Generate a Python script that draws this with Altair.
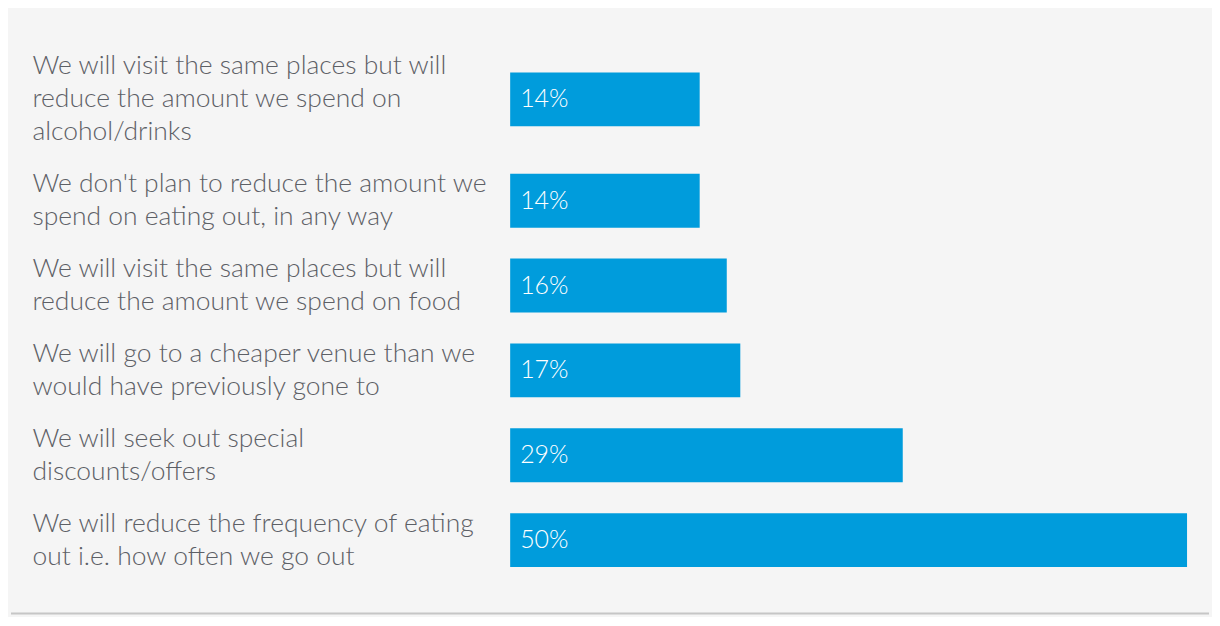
import altair as alt
import pandas as pd

labels = [
    "We will visit the same places but will|reduce the amount we spend on|alcohol/drinks",
    "We don't plan to reduce the amount we|spend on eating out, in any way",
    "We will visit the same places but will|reduce the amount we spend on food",
    "We will go to a cheaper venue than we|would have previously gone to",
    "We will seek out special|discounts/offers",
    "We will reduce the frequency of eating|out i.e. how often we go out",
]
values = [14, 14, 16, 17, 29, 50]

FONT = "Lato"
BLUE = "#009cdc"
TEXT = "#5d6066"
LINE_H = 33


def panel(i, last=False):
    df = pd.DataFrame({"label": [labels[i]], "value": [values[i]]})
    n_lines = labels[i].count("|") + 1
    h = LINE_H * n_lines + 19
    base = alt.Chart(df).transform_calculate(
        txt="datum.value + '%'"
    ).encode(
        y=alt.Y(
            "label:N",
            title=None,
            axis=alt.Axis(
                labelAlign="left",
                labelPadding=479,
                labelExpr="split(datum.label, '|')",
                labelLineHeight=LINE_H,
                labelOffset=-(n_lines - 1) * LINE_H / 2,
                labelFontSize=26.5,
                labelFont=FONT,
                labelFontWeight=300,
                labelColor=TEXT,
                labelLimit=480,
                domain=False,
                ticks=False,
            ),
        )
    )
    bar = base.mark_bar(height=54, color=BLUE).encode(
        x=alt.X("value:Q", scale=alt.Scale(domain=[0, 50]), axis=None)
    )
    txt = base.mark_text(
        align="left", dx=10, color="white", fontSize=25, font=FONT, fontWeight=300
    ).encode(x=alt.datum(0), text="txt:N")
    layers = [bar, txt]
    if last:
        rule = alt.Chart(df).mark_rule(color="#c6c6c6", strokeWidth=2).encode(
            x=alt.value(-500), x2=alt.value(700), y=alt.value(h + 31)
        )
        layers.append(rule)
    return alt.layer(*layers).properties(width=678, height=h)


panels = [panel(i, last=(i == len(labels) - 1)) for i in range(len(labels))]

chart = alt.vconcat(*panels, spacing=0, bounds="flush").properties(
    padding={"left": 2, "top": 32, "right": 2, "bottom": 2},
    background="#f5f5f5",
).configure_view(stroke=None)

chart.save("out.html", embed_options={"renderer": "svg", "actions": False})
